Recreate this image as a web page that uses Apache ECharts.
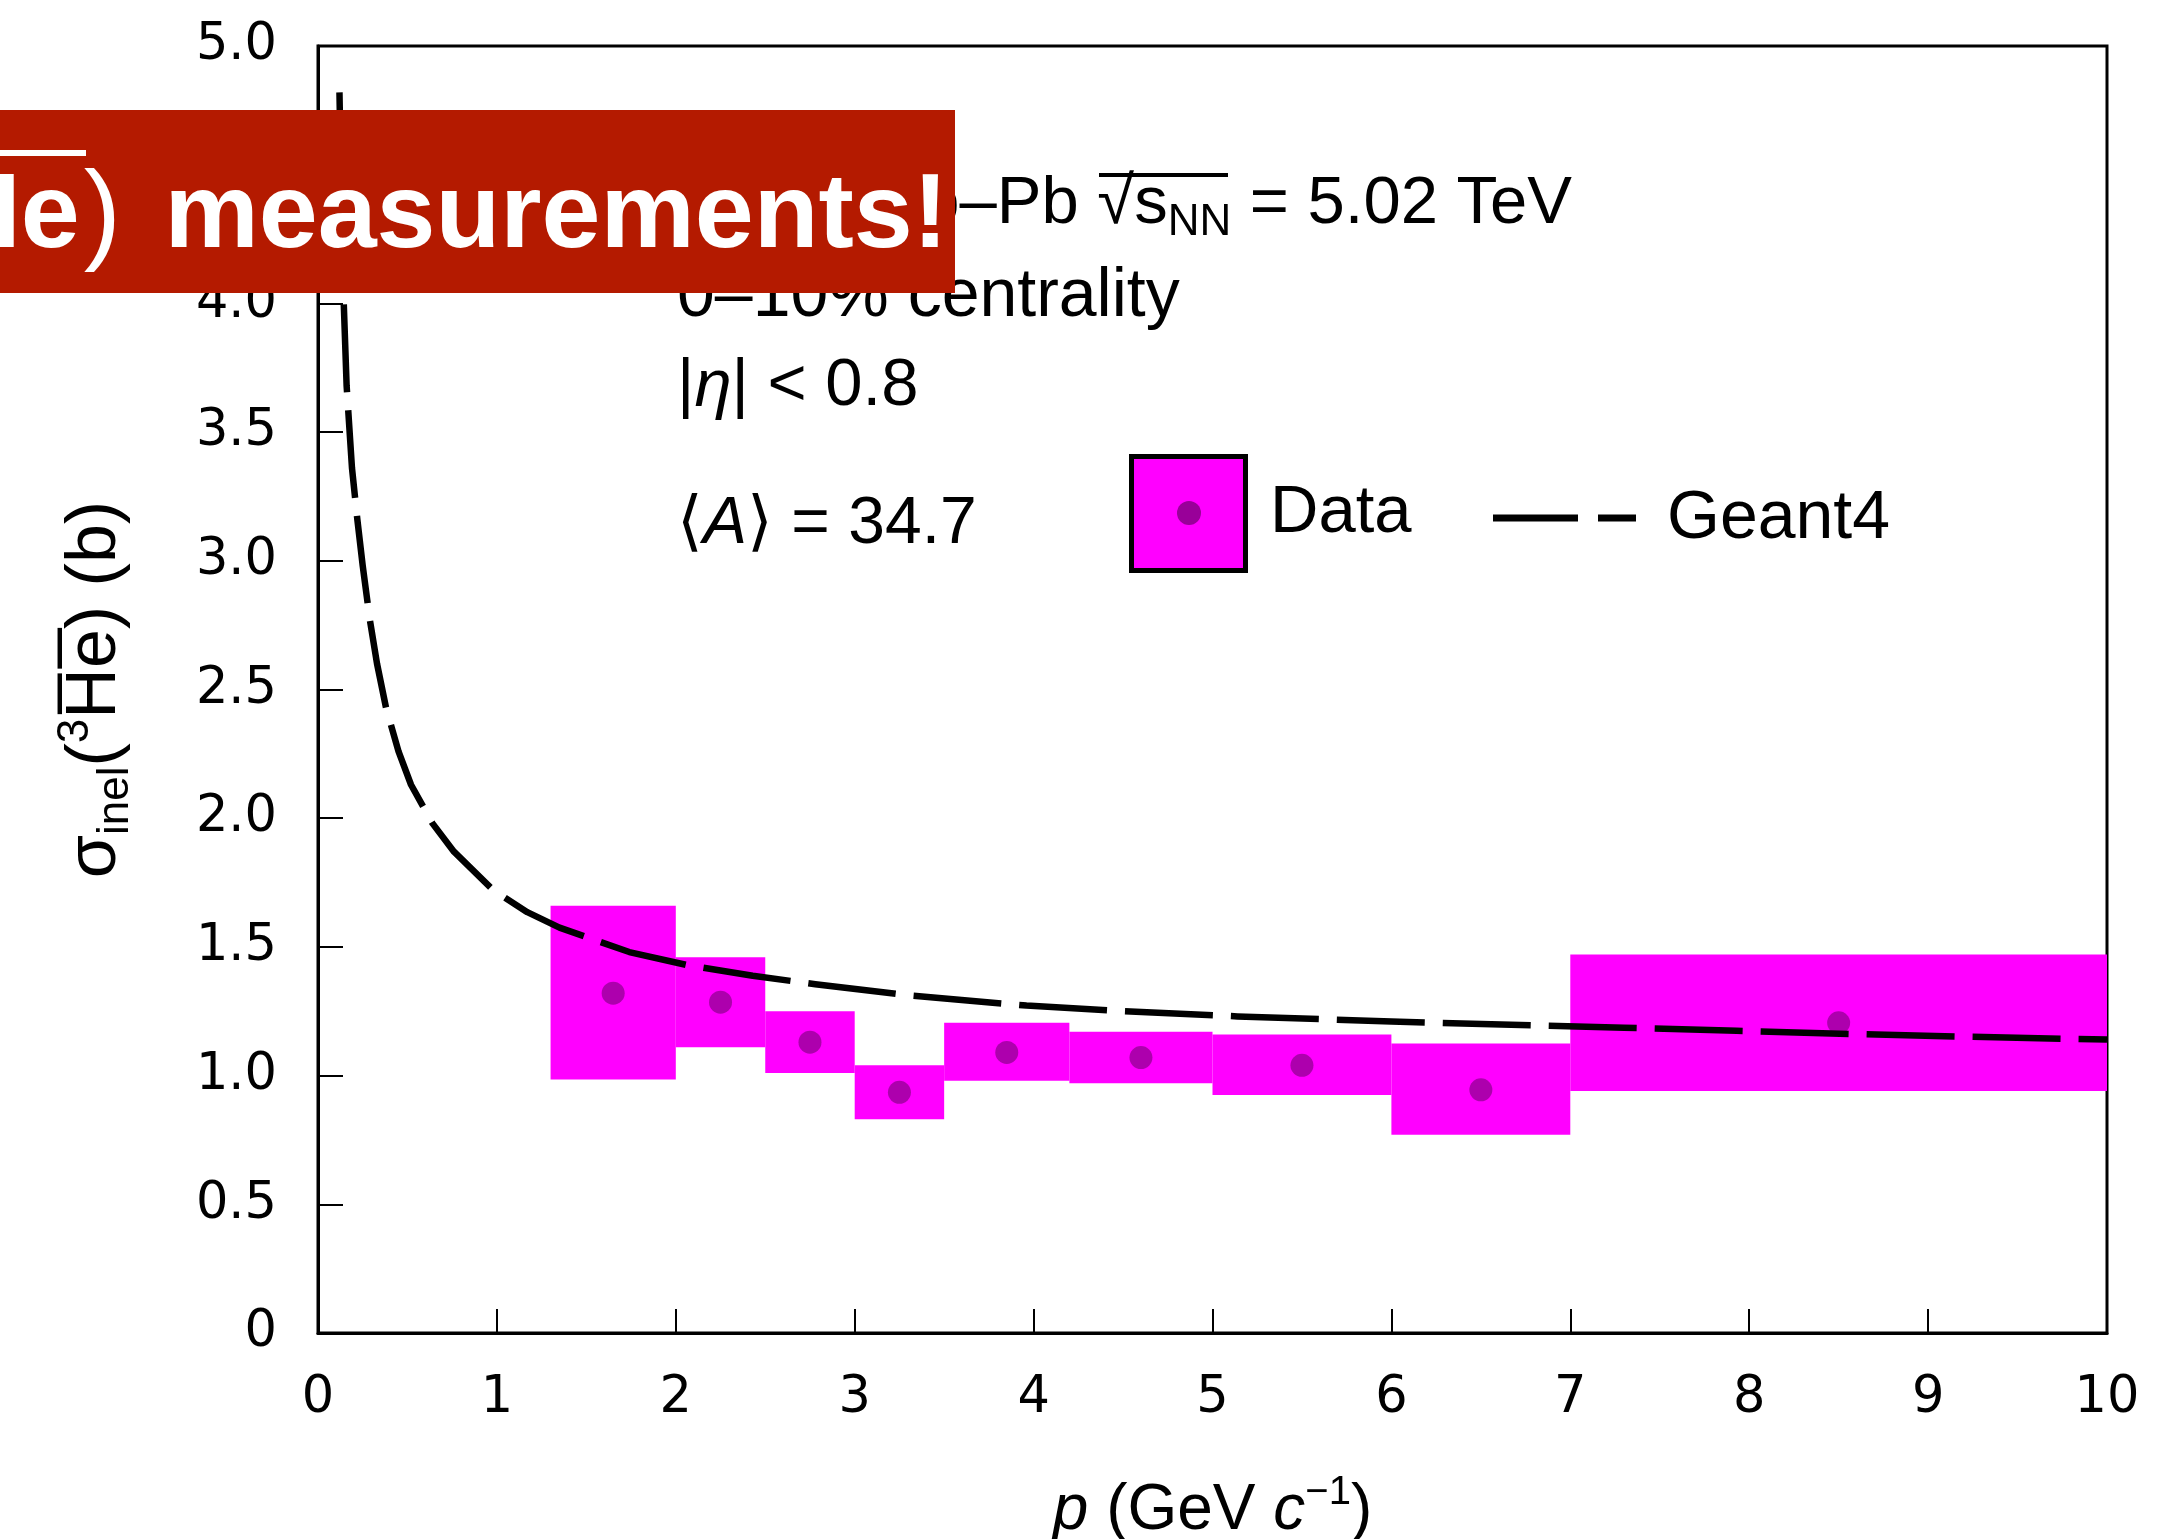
<!DOCTYPE html>
<html><head><meta charset="utf-8">
<script src="https://cdn.jsdelivr.net/npm/echarts@6/dist/echarts.min.js"></script>
<style>html,body{margin:0;padding:0;background:#fff}#c{width:2166px;height:1539px}</style>
</head><body><div id="c"></div>
<script>
// ---- data ----
const xTickLabels = ['0','1','2','3','4','5','6','7','8','9','10'];
const yTickLabels = ['0','0.5','1.0','1.5','2.0','2.5','3.0','3.5','4.0','4.5','5.0'];
const binLow  = [1.3, 2.0, 2.5, 3.0, 3.5, 4.2, 5.0, 6.0, 7.0];
const binHigh = [2.0, 2.5, 3.0, 3.5, 4.2, 5.0, 6.0, 7.0, 10.0];
const sysLow  = [0.985, 1.11, 1.01, 0.83, 0.98, 0.97, 0.925, 0.77, 0.94];
const sysHigh = [1.66, 1.46, 1.25, 1.04, 1.205, 1.17, 1.16, 1.125, 1.47];
const pointP     = [1.65, 2.25, 2.75, 3.25, 3.85, 4.6, 5.5, 6.5, 8.5];
const pointSigma = [1.32, 1.285, 1.13, 0.935, 1.09, 1.07, 1.04, 0.945, 1.205];
const geantP     = [0.12, 0.13, 0.14, 0.16, 0.19, 0.22, 0.25, 0.29, 0.33, 0.38, 0.45, 0.52, 0.64, 0.76, 0.98, 1.17, 1.35, 1.74, 2.06, 2.43, 2.78, 3.3, 3.96, 4.5, 5.14, 6.0, 6.79, 7.3, 7.93, 8.56, 9.21, 10.0];
const geantSigma = [4.82, 4.42, 4.08, 3.68, 3.36, 3.16, 2.98, 2.77, 2.60, 2.43, 2.26, 2.13, 1.98, 1.87, 1.72, 1.635, 1.575, 1.48, 1.43, 1.388, 1.355, 1.312, 1.272, 1.25, 1.23, 1.21, 1.195, 1.186, 1.174, 1.162, 1.151, 1.14];

const FONT = '"Liberation Sans", Arial, Helvetica, sans-serif';
const TICKFONT = '"DejaVu Sans", "Liberation Sans", sans-serif';
const chart = echarts.init(document.getElementById('c'), null, {renderer: 'canvas'});

const boxData = binLow.map((v, i) => [v, binHigh[i], sysLow[i], sysHigh[i]]);
const pointData = pointP.map((v, i) => [v, pointSigma[i]]);
const geantData = geantP.map((v, i) => [v, geantSigma[i]]);

const option = {
  animation: false,
  backgroundColor: '#fff',
  grid: {left: 318, top: 46, width: 1789, height: 1287, show: true, borderColor: '#000', borderWidth: 3,
    backgroundColor: 'transparent', outerBoundsMode: 'none', containLabel: false},
  xAxis: {
    type: 'value', min: 0, max: 10, interval: 1,
    axisLine: {show: true, lineStyle: {color: '#000', width: 3}},
    axisTick: {show: true, inside: true, length: 24, lineStyle: {color: '#000', width: 2}},
    splitLine: {show: false},
    axisLabel: {color: '#000', fontSize: 51, fontFamily: TICKFONT, margin: 40,
      formatter: v => xTickLabels[Math.round(v)]},
    name: '{i|p} (GeV {i|c}{sup|\u22121})',
    nameLocation: 'middle', nameGap: 140,
    nameTextStyle: {color: '#000', fontSize: 64, fontFamily: FONT, lineHeight: 76,
      rich: {
        i: {fontSize: 64, fontStyle: 'italic', fontFamily: FONT, color: '#000', lineHeight: 76},
        sup: {fontSize: 40, fontFamily: FONT, color: '#000', lineHeight: 40, verticalAlign: 'top'}
      }}
  },
  yAxis: {
    type: 'value', min: 0, max: 5, interval: 0.5,
    axisLine: {show: true, lineStyle: {color: '#000', width: 3}},
    axisTick: {show: true, inside: true, length: 25, lineStyle: {color: '#000', width: 2}},
    splitLine: {show: false},
    axisLabel: {color: '#000', fontSize: 51, fontFamily: TICKFONT, margin: 41,
      formatter: v => yTickLabels[Math.round(v * 2)]},
    name: '{g|\u03c3}{sub|inel}(' + '{sup|3}H\u0305e\u0305) (b)',
    nameLocation: 'middle', nameRotate: 90, nameGap: 180,
    nameTextStyle: {color: '#000', fontSize: 70, fontFamily: FONT, lineHeight: 84,
      rich: {
        g: {fontSize: 70, fontFamily: FONT, color: '#000', lineHeight: 84},
        sub: {fontSize: 44, fontFamily: FONT, color: '#000', lineHeight: 44, verticalAlign: 'bottom'},
        sup: {fontSize: 44, fontFamily: FONT, color: '#000', lineHeight: 44, verticalAlign: 'top'}
      }}
  },
  series: [
    {
      type: 'custom', name: 'Data syst', z: 2,
      data: boxData,
      encode: {x: [0, 1], y: [2, 3]},
      renderItem: (params, api) => {
        const a = api.coord([api.value(0), api.value(3)]);
        const b = api.coord([api.value(1), api.value(2)]);
        return {type: 'rect', shape: {x: a[0], y: a[1], width: b[0] - a[0], height: b[1] - a[1]},
          style: {fill: '#ff00ff'}};
      }
    },
    {
      type: 'scatter', name: 'Data', z: 3,
      data: pointData, symbol: 'circle', symbolSize: 23,
      itemStyle: {color: '#990099'}
    },
    {
      type: 'line', name: 'Geant4', z: 4,
      data: geantData, showSymbol: false, smooth: false,
      lineStyle: {color: '#000', width: 6.5, type: [88, 18], join: 'round'}
    }
  ],
  graphic: [
    // annotations
    {type: 'text', z: 50, x: 1572, y: 205, style: {
      text: '{t|ALICE Pb\u2013Pb \u221a}{t|s}{sub|NN}{t| = 5.02 TeV}',
      align: 'right', verticalAlign: 'middle',
      rich: {
        t: {fontSize: 67, fontFamily: FONT, fill: '#000', lineHeight: 80},
        sub: {fontSize: 44, fontFamily: FONT, fill: '#000', lineHeight: 44, verticalAlign: 'bottom'}
      }}},
    {type: 'line', z: 50, shape: {x1: 1099, y1: 175, x2: 1228, y2: 175}, style: {stroke: '#000', lineWidth: 4}},
    {type: 'text', z: 50, x: 677, y: 297, style: {text: '0\u201310% centrality', fontSize: 68, fontFamily: FONT, fill: '#000', align: 'left', verticalAlign: 'middle'}},
    {type: 'text', z: 50, x: 677, y: 387, style: {
      text: '|{i|\u03b7}| < 0.8', fontSize: 67, fontFamily: FONT, fill: '#000', align: 'left', verticalAlign: 'middle',
      rich: {i: {fontSize: 67, fontFamily: FONT, fontStyle: 'italic', fill: '#000'}}}},
    {type: 'text', z: 50, x: 677, y: 525, style: {
      text: '\u27e8{i|A}\u27e9 = 34.7', fontSize: 66, fontFamily: FONT, fill: '#000', align: 'left', verticalAlign: 'middle',
      rich: {i: {fontSize: 66, fontFamily: FONT, fontStyle: 'italic', fill: '#000'}}}},
    // legend
    {type: 'rect', z: 50, shape: {x: 1131.5, y: 456.5, width: 114, height: 114}, style: {fill: '#ff00ff', stroke: '#000', lineWidth: 5}},
    {type: 'circle', z: 51, shape: {cx: 1189, cy: 513, r: 12}, style: {fill: '#990099'}},
    {type: 'text', z: 50, x: 1270, y: 514, style: {text: 'Data', fontSize: 67, fontFamily: FONT, fill: '#000', align: 'left', verticalAlign: 'middle'}},
    {type: 'line', z: 50, shape: {x1: 1493, y1: 518, x2: 1636, y2: 518}, style: {stroke: '#000', lineWidth: 7, lineDash: [85, 20]}},
    {type: 'text', z: 50, x: 1667, y: 519, style: {text: 'Geant4', fontSize: 68, fontFamily: FONT, fill: '#000', align: 'left', verticalAlign: 'middle'}},
    // banner
    {type: 'rect', z: 100, shape: {x: 0, y: 110, width: 955, height: 183}, style: {fill: '#b41a00'}},
    {type: 'text', z: 101, x: 948, y: 218, style: {
      text: '{b|He}{p|)}{b| measurements!}',
      align: 'right', verticalAlign: 'middle',
      rich: {
        b: {fontSize: 106, fontWeight: 'bold', fontFamily: FONT, fill: '#fff', lineHeight: 120},
        p: {fontSize: 112, fontFamily: FONT, fill: '#fff', lineHeight: 120, padding: [0, 14, 0, 4]}
      }}},
    {type: 'rect', z: 101, shape: {x: 0, y: 150, width: 86, height: 6}, style: {fill: '#fff'}}
  ]
};
chart.setOption(option);
</script>
</body></html>
